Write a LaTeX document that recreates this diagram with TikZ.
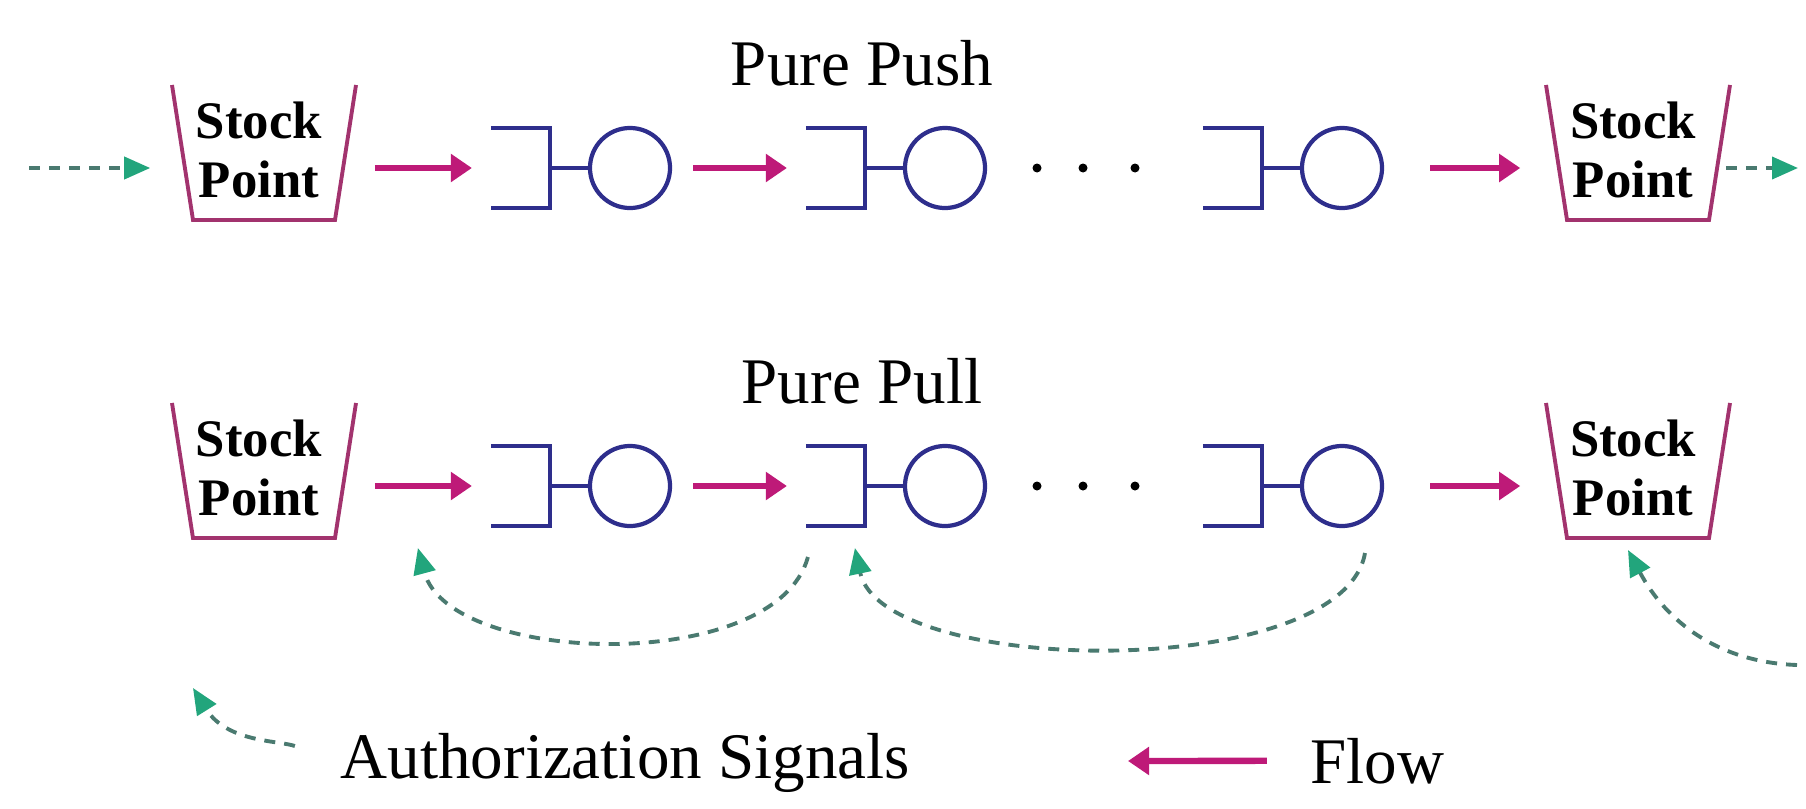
\documentclass[tikz,border=0pt]{standalone}
\usepackage{fontspec}
\setmainfont{Liberation Serif}
\usetikzlibrary{arrows.meta}
\definecolor{flowred}{HTML}{BE1A78}
\definecolor{signalgreen}{HTML}{22A57C}
\definecolor{signalgrey}{HTML}{4A7A70}
\definecolor{stationblue}{HTML}{2E2E8C}
\definecolor{bucketpink}{HTML}{A2336E}
\tikzstyle{flow edge} = [flowred, line width=1.8pt, -{Triangle[length=0.21cm,width=0.27cm]}]
\tikzstyle{signal edge} = [signalgrey, line width=1.1pt, dash pattern=on 0.11cm off 0.09cm, -{Triangle[length=0.26cm,width=0.22cm,color=signalgreen]}]

\begin{document}
\begin{tikzpicture}
[x=0.01cm, y=0.01cm, %
station/.style={shape=circle, draw=stationblue, line width=1.2pt, minimum size=0.8cm, inner sep=0pt}, %
stationLine/.style={stationblue, line width=1.2pt}, %
stock/.style={minimum width=1.58cm, minimum height=0.6cm, inner sep=0pt}, %
stockText/.style={font=\fontsize{15}{17}\selectfont\bfseries, align=center, inner sep=0pt}, %
bucket/.style={bucketpink, line width=1.1pt}, %
title/.style={font=\fontsize{18.5}{22}\selectfont, inner sep=0pt}]

\useasboundingbox (0,0) rectangle (1806,808);

%% titles
\node (push) [title, anchor=base] at (862,723) {Pure Push};
\node (pull) [title, anchor=base] at (862,405) {Pure Pull};

%% stock points
\foreach \nodename/\x/\y in {sl1/264/640, sr1/1638/640, sl2/264/322, sr2/1638/322}
{
\node (\nodename) at (\x,\y) [stock] {};
\draw [bucket] ([shift={(-92,83)}]\nodename.center) -- ++(21,-135) -- ++(142,0) -- ++(21,135);
\node [stockText] at ([shift={(-5,18)}]\nodename.center) {Stock\\Point};
}

%% stations
\foreach \nodename/\x/\y in {m11/630/640, m12/945/640, m13/1342/640, m21/630/322, m22/945/322, m23/1342/322}
{
\node (\nodename) at (\x,\y) [station] {};
\draw [stationLine] (\nodename.west) -- ++(-38,0) ++(-59,40) -- ++(59,0) -- ++(0,-80) -- ++(-59,0);
\coordinate (\nodename-in) at ([xshift=-1.37cm]\nodename.center);
}

%% dots
\foreach \x in {1037,1083,1135} \foreach \y in {640,322} \fill (\x,\y) circle (0.045cm);

%% flow edges
\path
\foreach \r in {1,2}
{
(sl\r) edge[flow edge, shorten <=0.31cm, shorten >=0.21cm] (m\r1-in)
(m\r1) edge[flow edge, shorten <=0.21cm, shorten >=0.21cm] (m\r2-in)
(m\r3) edge[flow edge, shorten <=0.46cm, shorten >=0.38cm] (sr\r)
};

%% authorization signals, push
\coordinate (src) at (29,640);
\coordinate (snk) at (1798,640);
\path (src) edge[signal edge, shorten >=0.34cm] (sl1)
      (sr1) edge[signal edge, shorten <=0.08cm] (snk);

%% authorization signals, pull
\coordinate (tail1) at ([shift={(0,-71)}]m22-in);
\coordinate (tip1) at ([shift={(-75,-62)}]m21-in);
\coordinate (tail2) at ([shift={(23,-67)}]m23.center);
\coordinate (tip2) at ([shift={(47,-62)}]m22-in);
\coordinate (tail3) at (1797,143);
\coordinate (tip3) at ([shift={(-10,-64)}]sr2.center);
\draw [signal edge] (tail1) to[out=-105,in=-75,looseness=0.8] (tip1);
\draw [signal edge] (tail2) to[out=-100,in=-78,looseness=0.66] (tip2);
\draw [signal edge] (tail3) to[out=178,in=-62] (tip3);

%% legend
\node (auth) [title, anchor=base west] at (340,30) {Authorization Signals};
\node (flowtxt) [title, anchor=base west] at (1310,25) {Flow};
\coordinate (legsig) at (193,120);
\coordinate (legflow) at (1128,47);
\path (auth.west) edge[signal edge, shorten <=0.48cm, out=160, in=-58] (legsig)
      (flowtxt.west) edge[flow edge, shorten <=0.43cm] (legflow);

\end{tikzpicture}
\end{document}
